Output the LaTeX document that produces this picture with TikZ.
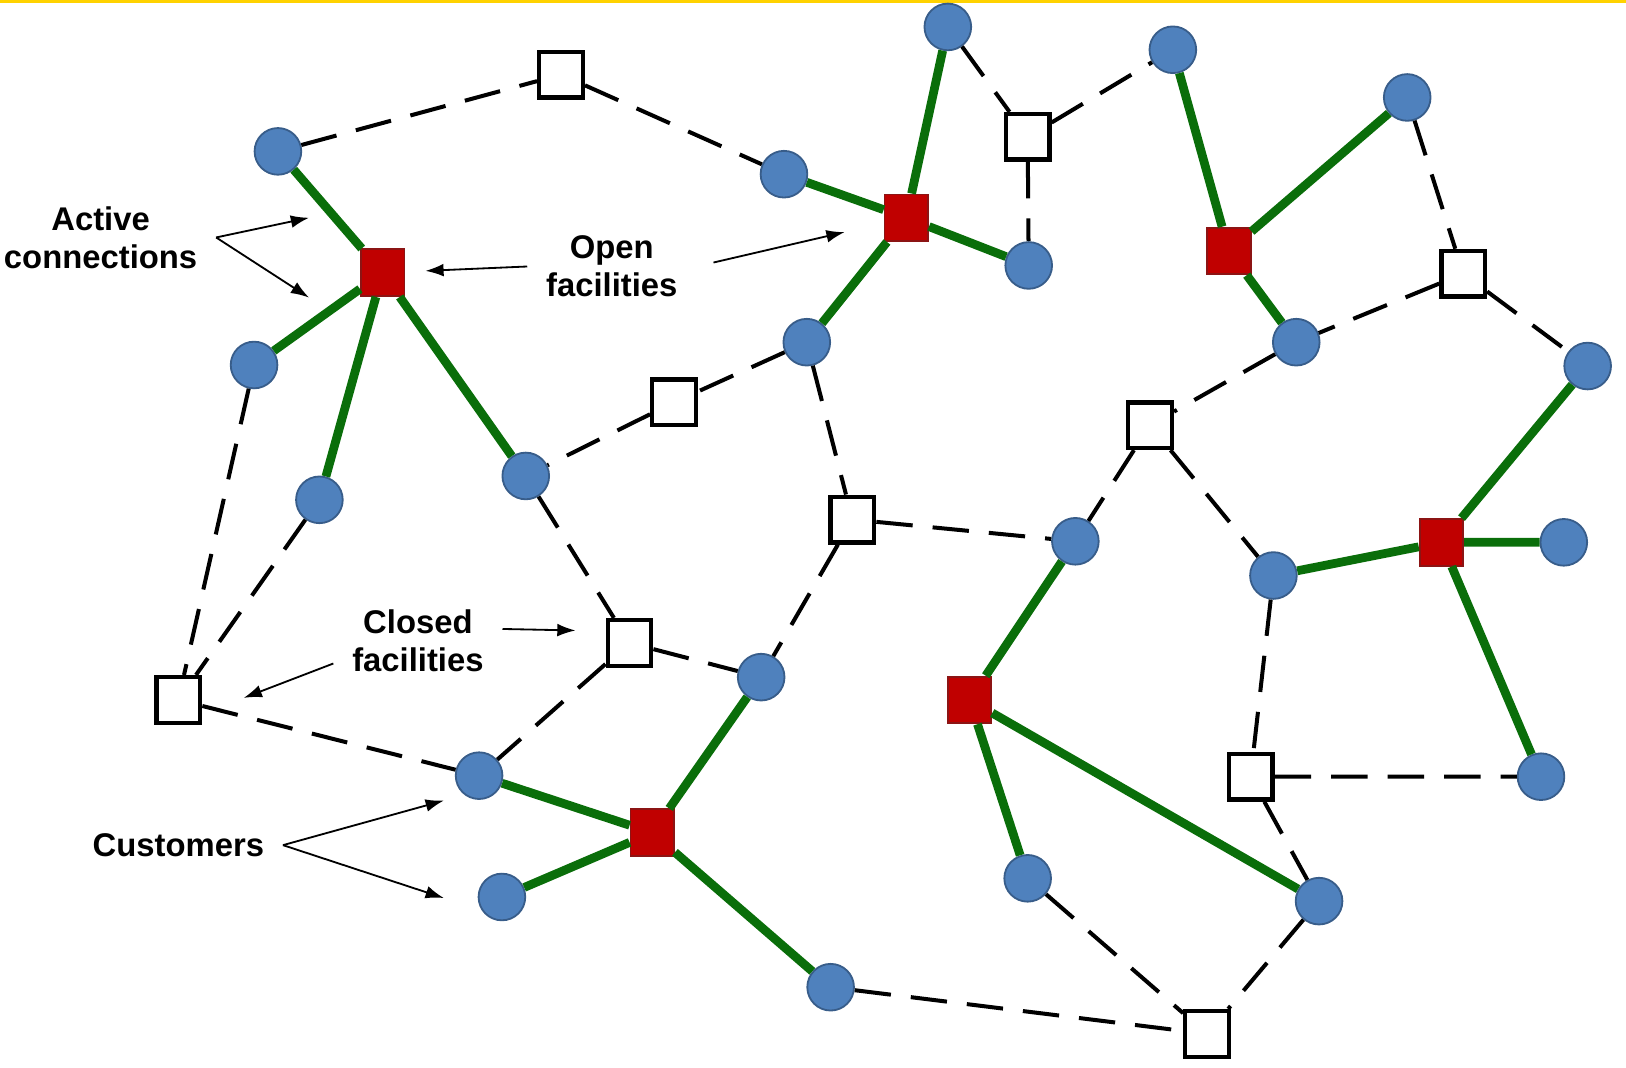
\documentclass[tikz,border=0pt]{standalone}
\usepackage{fontspec}
\setmainfont{Liberation Sans}
\usepackage{tikz}
\usetikzlibrary{arrows.meta}
\definecolor{custblue}{RGB}{79, 129, 189}
\definecolor{custedge}{RGB}{56, 93, 138}
\definecolor{openred}{RGB}{192, 0, 0}
\definecolor{openedge}{RGB}{140, 20, 20}
\definecolor{linkgreen}{RGB}{10, 110, 10}
\definecolor{baryellow}{RGB}{255, 210, 0}

\begin{document}
\begin{tikzpicture}[
  cust/.style={circle, draw=custedge, fill=custblue, line width=0.5, minimum size=0.45cm, inner sep=0},
  openfac/.style={rectangle, draw=openedge, fill=openred, line width=0.5, minimum width=0.42cm, minimum height=0.45cm, inner sep=0},
  shutfac/.style={rectangle, draw=black, fill=white, line width=1.2, minimum width=0.42cm, minimum height=0.44cm, inner sep=0},
  link/.style={linkgreen, line width=2.4},
  spare/.style={black, line width=1.1, dash pattern=on 10pt off 5.5pt},
  lbl/.style={font=\fontsize{9}{10.5}\selectfont\bfseries, align=center, inner sep=5pt},
  pointer/.style={-{Latex[length=5pt, width=3.5pt]}, line width=0.5}]

  \useasboundingbox (0, 0) rectangle (15.68, -10.29);
  \fill[baryellow] (0, 0) rectangle (15.68, -0.03);

  \node[cust] (c1) at (2.68, -1.46) {};
  \node[cust] (c2) at (7.56, -1.68) {};
  \node[cust] (c3) at (9.14, -0.26) {};
  \node[cust] (c4) at (11.31, -0.48) {};
  \node[cust] (c5) at (13.57, -0.94) {};
  \node[cust] (c6) at (9.92, -2.56) {};
  \node[cust] (c7) at (2.45, -3.52) {};
  \node[cust] (c8) at (7.78, -3.30) {};
  \node[cust] (c9) at (12.50, -3.30) {};
  \node[cust] (c10) at (15.31, -3.53) {};
  \node[cust] (c11) at (3.08, -4.82) {};
  \node[cust] (c12) at (5.07, -4.59) {};
  \node[cust] (c13) at (10.37, -5.22) {};
  \node[cust] (c14) at (12.28, -5.55) {};
  \node[cust] (c15) at (15.08, -5.23) {};
  \node[cust] (c16) at (7.34, -6.53) {};
  \node[cust] (c17) at (4.62, -7.48) {};
  \node[cust] (c18) at (4.84, -8.65) {};
  \node[cust] (c19) at (9.91, -8.47) {};
  \node[cust] (c20) at (12.72, -8.69) {};
  \node[cust] (c21) at (14.86, -7.49) {};
  \node[cust] (c22) at (8.01, -9.52) {};

  \node[openfac] (o1) at (3.69, -2.63) {};
  \node[openfac] (o2) at (8.74, -2.10) {};
  \node[openfac] (o3) at (11.85, -2.42) {};
  \node[openfac] (o4) at (13.90, -5.23) {};
  \node[openfac] (o5) at (9.35, -6.75) {};
  \node[openfac] (o6) at (6.29, -8.03) {};

  \node[shutfac] (f1) at (5.41, -0.72) {};
  \node[shutfac] (f2) at (9.91, -1.32) {};
  \node[shutfac] (f3) at (14.11, -2.64) {};
  \node[shutfac] (f4) at (6.50, -3.88) {};
  \node[shutfac] (f5) at (11.09, -4.10) {};
  \node[shutfac] (f6) at (8.22, -5.01) {};
  \node[shutfac] (f7) at (6.07, -6.20) {};
  \node[shutfac] (f8) at (1.72, -6.75) {};
  \node[shutfac] (f9) at (12.06, -7.49) {};
  \node[shutfac] (f10) at (11.64, -9.97) {};

  \draw[link] (o1) -- (c1) (o1) -- (c7) (o1) -- (c11) (o1) -- (c12);
  \draw[link] (o2) -- (c2) (o2) -- (c3) (o2) -- (c6) (o2) -- (c8);
  \draw[link] (o3) -- (c4) (o3) -- (c5) (o3) -- (c9);
  \draw[link] (o4) -- (c10) (o4) -- (c14) (o4) -- (c15) (o4) -- (c21);
  \draw[link] (o5) -- (c13) (o5) -- (c19) (o5) -- (c20);
  \draw[link] (o6) -- (c16) (o6) -- (c17) (o6) -- (c18) (o6) -- (c22);

  \draw[spare] (c1) -- (f1) (f1) -- (c2);
  \draw[spare] (c3) -- (f2) (f2) -- (c4) (f2) -- (c6);
  \draw[spare] (c5) -- (f3) (f3) -- (c9) (f3) -- (c10);
  \draw[spare] (c8) -- (f4) (f4) -- (c12);
  \draw[spare] (c9) -- (f5) (f5) -- (c13) (f5) -- (c14);
  \draw[spare] (c8) -- (f6) (f6) -- (c13) (f6) -- (c16);
  \draw[spare] (c12) -- (f7) (f7) -- (c16) (f7) -- (c17);
  \draw[spare] (c7) -- (f8) (c11) -- (f8) (f8) -- (c17);
  \draw[spare] (c14) -- (f9) (f9) -- (c21) (f9) -- (c20);
  \draw[spare] (c19) -- (f10) (c20) -- (f10) (c22) -- (f10);

  \node[lbl] (lblactive) at (0.97, -2.29) {Active\\connections};
  \node[lbl] (lblopen) at (5.90, -2.57) {Open\\facilities};
  \node[lbl] (lblclosed) at (4.03, -6.18) {Closed\\facilities};
  \node[lbl] (lblcust) at (1.72, -8.15) {Customers};

  \coordinate (tipact1) at (2.98, -2.10);
  \coordinate (tipact2) at (2.98, -2.87);
  \coordinate (tipclosed1) at (5.55, -6.08);
  \coordinate (tipclosed2) at (2.35, -6.73);
  \coordinate (tipcust1) at (4.28, -7.72);
  \coordinate (tipcust2) at (4.28, -8.66);

  \draw[pointer] (lblactive.east) -- (tipact1);
  \draw[pointer] (lblactive.east) -- (tipact2);
  \draw[pointer, shorten >=5.5pt] (lblopen.west) -- (o1);
  \draw[pointer, shorten <=4.8pt, shorten >=11pt] (lblopen.east) -- (o2);
  \draw[pointer] (lblclosed.8) -- (tipclosed1);
  \draw[pointer] (lblclosed.195) -- (tipclosed2);
  \draw[pointer] (lblcust.east) -- (tipcust1);
  \draw[pointer] (lblcust.east) -- (tipcust2);

\end{tikzpicture}
\end{document}
